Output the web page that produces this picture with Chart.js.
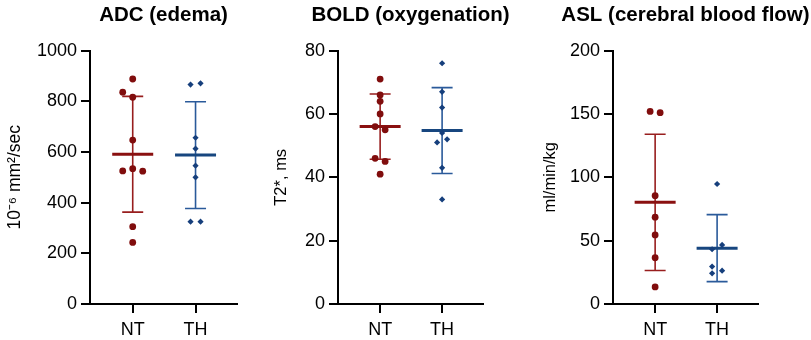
<!DOCTYPE html>
<html>
<head>
<meta charset="utf-8">
<script src="https://cdn.jsdelivr.net/npm/chart.js@4.4.1/dist/chart.umd.min.js"></script>
<style>
  html, body { margin: 0; padding: 0; background: #fff; }
  #wrap { position: relative; width: 811px; height: 340px; overflow: hidden; }
  canvas { position: absolute; top: 0; }
</style>
</head>
<body>
<div id="wrap">
  <canvas id="c1" width="270" height="340" style="left:0px"></canvas>
  <canvas id="c2" width="270" height="340" style="left:270px"></canvas>
  <canvas id="c3" width="271" height="340" style="left:540px"></canvas>
</div>
<script>
// ---- data ----
const CATEGORIES = ['NT', 'TH'];

const ADC_NT = [888, 836, 816, 647, 534, 525, 524, 305, 243];
const ADC_TH = [866, 871, 656, 613, 546, 500, 325, 325];
const ADC_TICKS = [0, 200, 400, 600, 800, 1000];

const BOLD_NT = [71, 66, 64, 60, 56, 55, 46, 45, 41];
const BOLD_TH = [76, 67, 62, 54, 51, 52, 43, 33];
const BOLD_TICKS = [0, 20, 40, 60, 80];

const ASL_NT = [152, 151, 85.5, 68.5, 54.5, 36.5, 13.5];
const ASL_TH = [94.7, 46.6, 43.2, 29.5, 24.2, 26.3];
const ASL_TICKS = [0, 50, 100, 150, 200];

// ---- layout / style (horizontal jitter slots for overlapping dots) ----
const JITTER = {
  ADC_NT: [0, -1, 0, 0, 0, -1, 1, 0, 0],
  ADC_TH: [-1, 1, 0, 0, 0, 0, -1, 1],
  BOLD_NT: [0, 0, 0, 0, -1, 1, -1, 1, 0],
  BOLD_TH: [0, 0, 0, 0, -1, 1, 0, 0],
  ASL_NT: [-1, 1, 0, 0, 0, 0, 0],
  ASL_TH: [0, 1, -1, -1, -1, 1]
};
const RED_PT = '#800d0d', RED_LN = '#981e1e';
const BLUE_PT = '#163f7c', BLUE_LN = '#2a5a9a';
const FONT = 'Liberation Sans, Arial, Helvetica, sans-serif';

function meanSd(v) {
  const m = v.reduce((a, b) => a + b, 0) / v.length;
  const s = Math.sqrt(v.reduce((a, b) => a + (b - m) * (b - m), 0) / (v.length - 1));
  return [m, s];
}

const jitterPlugin = {
  id: 'jitter',
  afterLayout(chart) {
    // widen the (chart-area centred) title box symmetrically so the text is not squeezed
    const t = chart.titleBlock;
    if (t) { t.left -= 120; t.right += 120; t.width = t.right - t.left; }
  },
  afterDatasetsUpdate(chart) {
    chart.data.datasets.forEach((ds, di) => {
      const meta = chart.getDatasetMeta(di);
      meta.data.forEach((el, i) => { el.x += (ds.jitter[i] || 0) * ds.jitterPx; });
    });
  }
};

const errorBarPlugin = {
  id: 'errbars',
  beforeDatasetsDraw(chart) {
    const ctx = chart.ctx, xs = chart.scales.x, ys = chart.scales.y;
    chart.data.datasets.forEach((ds, di) => {
      const [m, s] = meanSd(ds.values);
      const cx = xs.getPixelForValue(di + 1);
      const ym = ys.getPixelForValue(m);
      const yt = ys.getPixelForValue(m + s);
      const yb = ys.getPixelForValue(m - s);
      ctx.save();
      ctx.strokeStyle = ds.lineColor;
      ctx.lineWidth = 1.6;
      ctx.beginPath();
      ctx.moveTo(cx, yt); ctx.lineTo(cx, yb);
      ctx.moveTo(cx - 10.5, yt); ctx.lineTo(cx + 10.5, yt);
      ctx.moveTo(cx - 10.5, yb); ctx.lineTo(cx + 10.5, yb);
      ctx.stroke();
      ctx.strokeStyle = ds.meanColor;
      ctx.lineWidth = 3;
      ctx.beginPath();
      ctx.moveTo(cx - 20.5, ym); ctx.lineTo(cx + 20.5, ym);
      ctx.stroke();
      ctx.restore();
    });
  }
};

function makeChart(id, title, yTitle, ticks, nt, th, jNT, jTH, L) {
  const mk = (vals, idx) => vals.map(v => ({ x: idx, y: v }));
  return new Chart(document.getElementById(id), {
    type: 'scatter',
    data: {
      datasets: [
        { label: CATEGORIES[0], data: mk(nt, 1), values: nt, jitter: jNT, jitterPx: L.jNT,
          pointStyle: 'circle', radius: 3.4, backgroundColor: RED_PT, borderWidth: 0,
          lineColor: RED_LN, meanColor: '#8a1010' },
        { label: CATEGORIES[1], data: mk(th, 2), values: th, jitter: jTH, jitterPx: L.jTH,
          pointStyle: 'rectRot', radius: 3.1, backgroundColor: BLUE_PT, borderWidth: 0,
          lineColor: BLUE_LN, meanColor: '#17467f' }
      ]
    },
    options: {
      responsive: false,
      animation: false,
      events: [],
      layout: { padding: { left: 0, right: L.rightPad, top: 0, bottom: 0 } },
      plugins: {
        legend: { display: false },
        tooltip: { enabled: false },
        title: {
          display: true, text: title, fullSize: false, color: '#000',
          font: { family: FONT, size: 20.5, weight: 'bold' },
          padding: { top: 3, bottom: 23 }
        }
      },
      scales: {
        x: {
          type: 'linear', min: 0.32, max: 2.66,
          afterBuildTicks: s => { s.ticks = [{ value: 1 }, { value: 2 }]; },
          ticks: {
            callback: v => CATEGORIES[Math.round(v) - 1],
            font: { family: FONT, size: 18 }, color: '#000', padding: 6,
            autoSkip: false, maxRotation: 0
          },
          grid: { drawOnChartArea: false, tickLength: 9, color: '#000', lineWidth: 2 },
          border: { color: '#000', width: 2 },
          afterFit: s => { s.height = 36; }
        },
        y: {
          min: ticks[0], max: ticks[ticks.length - 1],
          afterBuildTicks: s => { s.ticks = ticks.map(v => ({ value: v })); },
          ticks: {
            callback: v => String(v),
            font: { family: FONT, size: 18 }, color: '#000', padding: 4
          },
          grid: { drawOnChartArea: false, tickLength: 9, color: '#000', lineWidth: 2 },
          border: { color: '#000', width: 2 },
          title: {
            display: true, text: yTitle, color: '#000',
            font: { family: FONT, size: L.yFont },
            padding: { top: L.titlePad, bottom: 0 }
          },
          afterFit: s => { s.width = L.yWidth; }
        }
      }
    },
    plugins: [jitterPlugin, errorBarPlugin]
  });
}

makeChart('c1', 'ADC (edema)', '10\u207B\u2076 mm\u00B2/sec', ADC_TICKS, ADC_NT, ADC_TH,
  JITTER.ADC_NT, JITTER.ADC_TH, { yWidth: 90, rightPad: 33, titlePad: 5, jNT: 10, jTH: 5, yFont: 17.5 });
makeChart('c2', 'BOLD (oxygenation)', 'T2*, ms', BOLD_TICKS, BOLD_NT, BOLD_TH,
  JITTER.BOLD_NT, JITTER.BOLD_TH, { yWidth: 68, rightPad: 57, titlePad: 2, jNT: 5, jTH: 5, yFont: 16.5 });
makeChart('c3', 'ASL (cerebral blood flow)', 'ml/min/kg', ASL_TICKS, ASL_NT, ASL_TH,
  JITTER.ASL_NT, JITTER.ASL_TH, { yWidth: 73, rightPad: 53, titlePad: 1, jNT: 5, jTH: 5, yFont: 16.5 });
</script>
</body>
</html>
